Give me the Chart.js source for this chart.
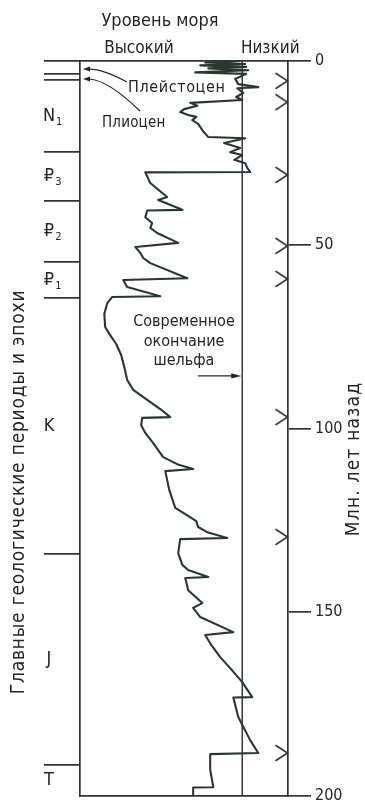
<!DOCTYPE html>
<html>
<head>
<meta charset="utf-8">
<script src="https://cdn.jsdelivr.net/npm/chart.js@4/dist/chart.umd.min.js"></script>
<style>
  html, body { margin: 0; padding: 0; background: #fff; }
  canvas { display: block; }
</style>
</head>
<body>
<canvas id="seaLevel" width="365" height="803"></canvas>
<script>
// Relative sea level through the last 200 Myr (0 = present-day shelf edge, positive = higher)
const curveAge = [
  0.0, 0.4, 0.8, 1.2, 1.6, 2.0, 2.5, 3.1, 3.5, 4.9,
  6.3, 7.1, 7.4, 8.7, 9.8, 10.6, 11.4, 12.2, 13.1, 13.9,
  14.7, 15.2, 16.1, 17.1, 19.1, 20.7, 21.0, 22.3, 23.7, 24.8,
  25.6, 26.9, 27.8, 29.1, 30.2, 30.3, 33.2, 37.0, 37.8, 40.5,
  40.7, 42.5, 44.1, 45.4, 46.8, 49.5, 50.6, 52.2, 53.6, 55.0,
  59.1, 59.6, 61.5, 64.0, 64.2, 65.9, 68.8, 72.4, 74.6, 77.0,
  80.0, 83.3, 86.8, 89.5, 92.2, 94.7, 96.9, 97.1, 99.1, 101.2,
  104.0, 107.8, 109.7, 111.0, 111.6, 116.7, 121.6, 123.8, 125.2, 126.8,
  128.2, 129.8, 130.1, 133.9, 137.1, 138.5, 140.4, 140.7, 144.0, 147.5,
  148.8, 151.3, 155.4, 156.2, 158.9, 162.2, 165.2, 169.0, 173.1, 173.2,
  178.5, 184.8, 188.3, 188.6, 192.9, 197.6, 197.7, 200.0
];
const curveLevel = [
  1.0, 17.8, -1.4, 20.2, -1.9, 16.3, -2.9, 22.6, -1.9, 3.4,
  1.9, -7.7, 2.4, -0.5, 2.9, 0.0, 25.0, 21.6, 27.9, 29.8,
  26.0, 22.1, 24.0, 21.2, 18.8, 16.3, -1.4, 8.7, 1.0, 5.8,
  0.0, 3.8, -1.4, -2.4, -3.8, 46.6, 44.2, 36.1, 40.4, 28.8,
  45.7, 46.6, 43.3, 44.2, 40.9, 30.8, 51.4, 49.0, 47.6, 44.2,
  26.4, 57.2, 55.3, 39.4, 62.5, 64.9, 66.3, 65.9, 63.5, 60.6,
  58.2, 56.7, 55.3, 52.4, 45.7, 39.4, 34.6, 48.1, 48.6, 46.6,
  42.8, 38.0, 31.3, 23.6, 37.0, 35.1, 32.2, 26.0, 22.1, 21.2,
  16.8, 7.2, 29.8, 30.8, 28.8, 26.0, 16.3, 27.4, 26.0, 19.2,
  23.6, 20.2, 4.3, 17.8, 14.9, 10.6, 5.8, 0.0, -4.8, 4.3,
  1.9, -3.8, -7.7, 15.4, 15.4, 13.9, 23.6, 23.6
];

// Age axis (million years ago)
const ageTicks = [0, 50, 100, 150, 200];

// Boundaries of the main geological periods and epochs (Ma)
const eraBoundaries = [0, 3.5, 5.2, 24.8, 38.0, 54.6, 64.5, 134.1, 191.6];

// Periods labelled in the left column
const periodSymbols = ['N', '₽', '₽', '₽', 'K', 'J', 'T'];
const periodIndices = ['1', '3', '2', '1', '', '', ''];
const periodFrom = [5.2, 24.8, 38.0, 54.6, 64.5, 134.1, 191.6];
const periodTo   = [24.8, 38.0, 54.6, 64.5, 134.1, 191.6, 200];

// Short epochs named with arrows
const epochNames = ['Плейстоцен', 'Плиоцен'];
const epochAges  = [2.2, 4.9];

// Marked ages on the age axis
const markerAges = [5.4, 11.2, 31.0, 50.3, 59.3, 96.9, 129.5, 188.3];

// Present-day shelf edge
const shelfEdge = 0;
const shelfNoteAge = 85.7;
const shelfNote = ['Современное', 'окончание', 'шельфа'];

const FONT = '"DejaVu Sans Condensed", "DejaVu Sans", sans-serif';
const INK = '#242424';
const CURVE = '#2a372f';

// Chevron symbol for the marked ages: tip sits on the axis
function chevron() {
  const c = document.createElement('canvas');
  c.width = 30; c.height = 18;
  const g = c.getContext('2d');
  g.strokeStyle = '#333';
  g.lineWidth = 1.6;
  g.lineCap = 'round';
  g.beginPath();
  g.moveTo(3, 1.5); g.lineTo(14.5, 9); g.lineTo(3, 16.5);
  g.stroke();
  return c;
}

function arrowHead(ctx, x, y, dirX, dirY, len, half) {
  const px = -dirY, py = dirX;
  ctx.beginPath();
  ctx.moveTo(x, y);
  ctx.lineTo(x - dirX * len + px * half, y - dirY * len + py * half);
  ctx.lineTo(x - dirX * len - px * half, y - dirY * len - py * half);
  ctx.closePath();
  ctx.fill();
}

const labelsPlugin = {
  id: 'labels',
  afterDraw(chart) {
    const { ctx, chartArea } = chart;
    const xs = chart.scales.x, ys = chart.scales.y;
    ctx.save();
    ctx.fillStyle = INK;
    ctx.strokeStyle = INK;
    ctx.textBaseline = 'middle';

    // Heading
    ctx.textAlign = 'center';
    ctx.font = '18px ' + FONT;
    ctx.fillText('Уровень моря', 160, 21);
    ctx.font = '17px ' + FONT;
    ctx.fillText('Высокий', chartArea.left + 59, 49);
    ctx.fillText('Низкий', xs.getPixelForValue(shelfEdge) + 28, 49);

    // Period symbols in the left column
    periodSymbols.forEach((s, i) => {
      const yMid = (ys.getPixelForValue(periodFrom[i]) + ys.getPixelForValue(periodTo[i])) / 2;
      ctx.font = '18px ' + FONT;
      ctx.textAlign = 'center';
      const w = ctx.measureText(s).width;
      const idx = periodIndices[i];
      const x0 = 49;
      ctx.fillText(s, x0, yMid);
      if (idx) {
        ctx.font = '11px ' + FONT;
        ctx.textAlign = 'left';
        ctx.fillText(idx, x0 + w / 2 + 1, yMid + 6);
      }
    });

    // Epoch names with curved arrows to the column edge
    ctx.textAlign = 'left';
    ctx.font = '16px ' + FONT;
    ctx.letterSpacing = '0.6px';
    ctx.fillText(epochNames[0], 128, 88);
    ctx.font = '15px ' + FONT;
    ctx.letterSpacing = '0.2px';
    ctx.fillText(epochNames[1], 102, 123);
    ctx.letterSpacing = '0px';
    ctx.lineWidth = 1.2;
    const ax = chartArea.left + 3;
    const starts = [[127, 82], [140, 111]];
    const ctrls = [[103, 69], [108, 80]];
    epochAges.forEach((a, i) => {
      const ty = ys.getPixelForValue(a);
      ctx.beginPath();
      ctx.moveTo(starts[i][0], starts[i][1]);
      ctx.quadraticCurveTo(ctrls[i][0], ctrls[i][1], ax + 6, ty);
      ctx.lineTo(ax + 4, ty);
      ctx.stroke();
      arrowHead(ctx, ax, ty, -1, 0, 7, 2.5);
    });

    // Note on the present-day shelf edge
    ctx.font = '16px ' + FONT;
    ctx.textAlign = 'center';
    const ny = [322, 342, 361];
    shelfNote.forEach((t, i) => ctx.fillText(t, 184, ny[i]));
    const sy = ys.getPixelForValue(shelfNoteAge);
    const sx = xs.getPixelForValue(shelfEdge);
    ctx.lineWidth = 1.3;
    ctx.beginPath();
    ctx.moveTo(198, sy);
    ctx.lineTo(sx - 6, sy);
    ctx.stroke();
    arrowHead(ctx, sx - 1, sy, 1, 0, 10, 2.6);

    // Rotated axis titles
    ctx.font = '19px ' + FONT;
    ctx.letterSpacing = '0.8px';
    ctx.save();
    ctx.translate(19, 492);
    ctx.rotate(-Math.PI / 2);
    ctx.fillText('Главные геологические периоды и эпохи', 0, 0);
    ctx.restore();
    ctx.letterSpacing = '1.2px';
    ctx.save();
    ctx.translate(354, 459);
    ctx.rotate(-Math.PI / 2);
    ctx.fillText('Млн. лет назад', 0, 0);
    ctx.restore();
    ctx.letterSpacing = '0px';

    ctx.restore();
  }
};

const zeroPad = (s) => { s.paddingTop = 0; s.paddingBottom = 0; s.paddingLeft = 0; s.paddingRight = 0; };

const hiddenX = (position) => ({
  type: 'linear',
  position,
  min: -22,
  max: 78,
  reverse: true,
  ticks: { display: false },
  grid: { display: false },
  border: { display: true, color: '#333', width: 1.7 },
  afterFit(s) { s.height = 0; zeroPad(s); }
});

new Chart(document.getElementById('seaLevel'), {
  type: 'scatter',
  data: {
    datasets: [
      {
        label: 'Уровень моря',
        data: curveAge.map((a, i) => ({ x: curveLevel[i], y: a })),
        showLine: true,
        borderColor: CURVE,
        borderWidth: 2.1,
        borderJoinStyle: 'round',
        pointRadius: 0,
        tension: 0,
        xAxisID: 'x',
        yAxisID: 'y'
      },
      {
        label: 'Окончание шельфа',
        data: [{ x: shelfEdge, y: 0 }, { x: shelfEdge, y: 200 }],
        showLine: true,
        borderColor: '#383838',
        borderWidth: 1.5,
        pointRadius: 0,
        xAxisID: 'x',
        yAxisID: 'y'
      },
      {
        label: 'Отметки',
        data: markerAges.map(a => ({ x: -22, y: a })),
        showLine: false,
        pointStyle: chevron(),
        pointRadius: 5,
        clip: false,
        xAxisID: 'x',
        yAxisID: 'y'
      }
    ]
  },
  options: {
    responsive: false,
    devicePixelRatio: 1,
    animation: false,
    events: [],
    layout: { padding: { left: 0, right: 0, top: 61, bottom: 7 } },
    plugins: { legend: { display: false }, tooltip: { enabled: false }, title: { display: false } },
    scales: {
      x: hiddenX('bottom'),
      xTop: hiddenX('top'),
      y: {
        type: 'linear',
        position: 'right',
        min: 0,
        max: 200,
        reverse: true,
        afterBuildTicks(s) { s.ticks = ageTicks.map(v => ({ value: v })); },
        ticks: {
          color: INK,
          padding: 4,
          font: { family: FONT, size: 16 },
          callback: (v) => String(v)
        },
        grid: { display: true, drawOnChartArea: false, drawTicks: true, tickLength: 23, color: '#333', lineWidth: 1.7 },
        border: { display: true, color: '#333', width: 1.7 },
        afterFit(s) { s.width = 77; zeroPad(s); }
      },
      yEra: {
        type: 'linear',
        position: 'left',
        min: 0,
        max: 200,
        reverse: true,
        afterBuildTicks(s) { s.ticks = eraBoundaries.map(v => ({ value: v })); },
        ticks: { display: false },
        grid: { display: true, drawOnChartArea: false, drawTicks: true, tickLength: 36, color: '#333', lineWidth: 1.7 },
        border: { display: true, color: '#333', width: 1.7 },
        afterFit(s) { s.width = 80; zeroPad(s); }
      }
    }
  },
  plugins: [labelsPlugin]
});
</script>
</body>
</html>
